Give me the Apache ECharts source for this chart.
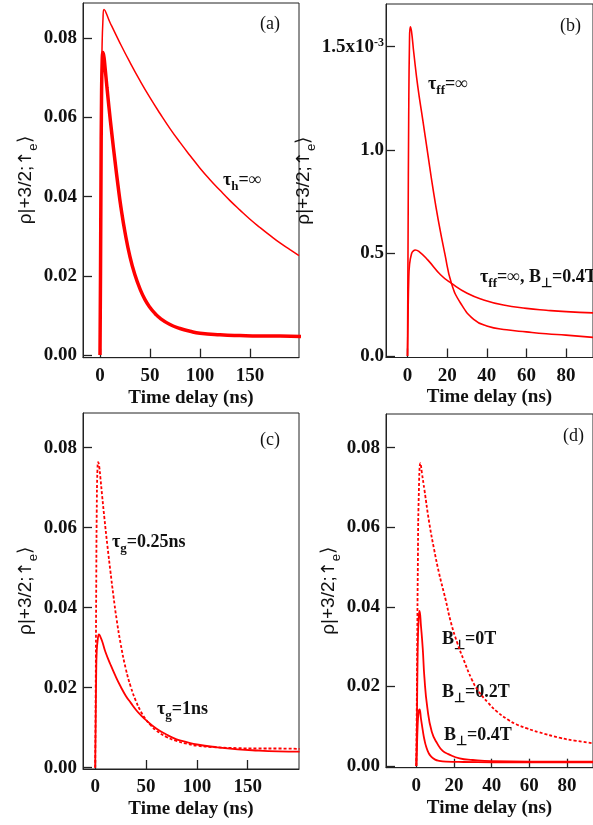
<!DOCTYPE html>
<html>
<head>
<meta charset="utf-8">
<script src="https://cdn.jsdelivr.net/npm/echarts@6/dist/echarts.min.js"></script>
<style>
html,body{margin:0;padding:0;background:#fff;}
#main{width:593px;height:825px;}
</style>
</head>
<body>
<div id="main"></div>
<script>
// [time delay (ns), rho]
// (a) thin: tau_h = inf
var tauHInf = [[0,0],[0.5,0.02],[1,0.045],[1.5,0.065],[2,0.077],[3,0.085],[4,0.0873],[10,0.0840],[20,0.0788],[30,0.0739],[40,0.0693],[50,0.0650],[60,0.0610],[70,0.0572],[80,0.0537],[90,0.0504],[100,0.0472],[110,0.0443],[120,0.0416],[130,0.0390],[140,0.0366],[150,0.0343],[160,0.0322],[170,0.0302],[180,0.0283],[190,0.0266],[199,0.0251]];
// (a) thick and (c) dotted: tau_g = 0.25ns
var tauG025 = [[0,0],[0.5,0.02],[1,0.045],[1.5,0.064],[2.2,0.0745],[3,0.0764],[4,0.0752],[5,0.0728],[7,0.0675],[9,0.0625],[12,0.0555],[15,0.049],[18,0.0428],[21,0.0372],[25,0.031],[30,0.0248],[35,0.0202],[40,0.0167],[45,0.014],[50,0.0120],[55,0.0105],[60,0.0093],[70,0.0077],[80,0.0067],[90,0.0060],[100,0.0055],[120,0.0051],[140,0.0049],[160,0.0048],[180,0.0048],[201,0.0047]];
// (c) solid: tau_g = 1ns
var tauG1 = [[0,0],[0.5,0.012],[1,0.024],[1.5,0.029],[2.5,0.032],[3.7,0.0333],[5,0.0328],[7,0.0315],[10,0.0290],[15,0.0258],[20,0.0229],[25,0.0203],[30,0.0180],[35,0.0162],[40,0.0145],[45,0.0131],[50,0.0119],[60,0.0098],[70,0.0083],[80,0.0071],[90,0.0064],[100,0.0058],[120,0.0051],[140,0.0046],[160,0.0043],[180,0.0041],[201,0.0040]];
// (b) values in units of 1e-3
var tauFfInf = [[0,0],[0.3,0.6],[0.6,1.15],[1,1.52],[1.4,1.597],[2,1.575],[3.2,1.468],[5.2,1.306],[7.7,1.145],[10.2,0.983],[12.7,0.821],[15.5,0.66],[18.8,0.498],[22.2,0.352],[26.8,0.256],[33.4,0.178],[40,0.146],[50,0.127],[60,0.117],[70,0.108],[80,0.101],[94,0.09]];
var tauFfB04 = [[0,0],[0.3,0.2],[0.6,0.36],[1,0.44],[2,0.495],[3,0.51],[3.9,0.514],[6,0.505],[10.2,0.466],[16.8,0.393],[22.2,0.352],[30.1,0.304],[38.4,0.272],[48.4,0.247],[60,0.231],[70,0.222],[80,0.215],[94,0.209]];
// (d)
var b0T = [[0,0],[0.4,0.025],[0.8,0.05],[1.3,0.068],[2.2,0.0761],[3,0.0735],[4.3,0.0694],[6.9,0.061],[9.5,0.0543],[12.1,0.0484],[15.6,0.0417],[18.3,0.0362],[21.7,0.031],[25.2,0.0266],[29.6,0.0216],[33,0.0188],[38.3,0.0158],[43,0.0136],[48.8,0.0116],[53,0.0105],[58.4,0.0095],[65,0.0085],[76,0.0071],[84,0.0064],[94,0.0057]];
var b02T = [[0,0],[0.3,0.01],[0.7,0.028],[1.2,0.037],[1.7,0.039],[2.5,0.035],[3.4,0.0296],[4.3,0.0222],[5.8,0.0148],[8.2,0.0086],[11.3,0.0055],[14,0.0038],[17,0.003],[23,0.0019],[30,0.0015],[40,0.0012],[60,0.0011],[94,0.0011]];
var b04T = [[0,0],[0.3,0.004],[0.7,0.01],[1.2,0.0135],[1.7,0.0142],[2.5,0.0118],[3.4,0.009],[4.3,0.0066],[5.2,0.0049],[6.5,0.0033],[7.8,0.0024],[10,0.0016],[12.1,0.0013],[16,0.0011],[25,0.0010],[50,0.0009],[94,0.0009]];

var xTicksLong = [0, 50, 100, 150];
var xTicksShort = [0, 20, 40, 60, 80];
var yTicks = [0, 0.02, 0.04, 0.06, 0.08];
var yTicksB = [0, 0.5, 1.0, 1.5];

var serif = "'Liberation Serif', 'Times New Roman', serif";
var sans = "'Liberation Sans', Arial, sans-serif";
var RED = '#ff0000';
var INK = '#222';

var myChart = echarts.init(document.getElementById('main'));

function xAxisOf(grid, min, max, ticks, gap) {
    return {
        type: 'value', gridIndex: grid, min: min, max: max,
        axisLine: { show: true, onZero: false, lineStyle: { color: INK, width: 1 } },
        axisTick: { inside: true, length: 9, customValues: ticks, lineStyle: { color: INK, width: 1.3 } },
        axisLabel: { customValues: ticks, margin: 9, fontFamily: serif, fontWeight: 'bold', fontSize: 19, color: '#111' },
        splitLine: { show: false },
        name: 'Time delay (ns)', nameLocation: 'middle', nameGap: gap,
        nameTextStyle: { fontFamily: serif, fontWeight: 'bold', fontSize: 19, color: '#111', lineHeight: 22 }
    };
}
function yAxisOf(grid, min, max, ticks, fmt, margin, gap) {
    return {
        type: 'value', gridIndex: grid, min: min, max: max,
        axisLine: { show: true, onZero: false, lineStyle: { color: INK, width: 1 } },
        axisTick: { inside: true, length: 9, customValues: ticks, lineStyle: { color: INK, width: 1.3 } },
        axisLabel: {
            customValues: ticks, margin: margin, formatter: fmt,
            fontFamily: serif, fontWeight: 'bold', fontSize: 19, color: '#111',
            rich: { sup: { fontFamily: serif, fontWeight: 'bold', fontSize: 12, verticalAlign: 'top', lineHeight: 12, color: '#111' } }
        },
        splitLine: { show: false },
        name: '{t|ρ|+3/2;}{a|↑}{s|e}{t|⟩}', nameLocation: 'middle', nameGap: gap,
        nameTextStyle: {
            rich: {
                t: { fontFamily: sans, fontSize: 19, lineHeight: 28, color: '#111' },
                a: { fontFamily: "'DejaVu Sans', sans-serif", fontSize: 18, lineHeight: 28, color: '#111' },
                s: { fontFamily: sans, fontSize: 13, lineHeight: 13, verticalAlign: 'bottom', color: '#111' }
            }
        }
    };
}
function fmt2(v) { return v.toFixed(2); }
function fmtB(v) { return v === 1.5 ? '1.5x10{sup|-3}' : v.toFixed(1); }

function line(x, data, width, dashed) {
    return {
        type: 'line', xAxisIndex: x, yAxisIndex: x, data: data,
        showSymbol: false, smooth: 0.5, clip: true,
        lineStyle: { color: RED, width: width, type: dashed ? [3, 2] : 'solid' }
    };
}

var rich = {
    t: { fontFamily: serif, fontWeight: 'bold', fontSize: 18, lineHeight: 26, fill: '#111' },
    s: { fontFamily: serif, fontWeight: 'bold', fontSize: 13, lineHeight: 13, verticalAlign: 'bottom', fill: '#111' }
};
function note(x, y, text) {
    return { type: 'text', x: x, y: y, style: { text: text, rich: rich, verticalAlign: 'middle', align: 'left' } };
}
function letter(x, y, text) {
    return { type: 'text', x: x, y: y, style: { text: text, font: '18px ' + serif, fill: '#111', verticalAlign: 'middle' } };
}

option = {
    animation: false,
    backgroundColor: '#fff',
    grid: [
        { left: 83, top: 3, width: 216, height: 354.7, show: true, borderColor: INK, borderWidth: 1 },
        { left: 386, top: 4, width: 210, height: 353.5, show: true, borderColor: INK, borderWidth: 1 },
        { left: 83, top: 413, width: 216, height: 356, show: true, borderColor: INK, borderWidth: 1 },
        { left: 386, top: 414, width: 210, height: 353.7, show: true, borderColor: INK, borderWidth: 1 }
    ],
    xAxis: [
        xAxisOf(0, -17, 199, xTicksLong, 29),
        xAxisOf(1, -10.85, 93.6, xTicksShort, 29),
        xAxisOf(2, -12, 200.4, xTicksLong, 28),
        xAxisOf(3, -16.1, 93.8, xTicksShort, 29)
    ],
    yAxis: [
        yAxisOf(0, -0.00068, 0.08892, yTicks, fmt2, 6, 41),
        yAxisOf(1, -0.0073, 1.707, yTicksB, fmtB, 2, 44),
        yAxisOf(2, -0.000325, 0.08868, yTicks, fmt2, 6, 41),
        yAxisOf(3, -0.00043, 0.08847, yTicks, fmt2, 6, 37)
    ],
    series: [
        line(0, tauHInf, 1.5, false),
        line(0, tauG025, 3.5, false),
        line(1, tauFfInf, 1.6, false),
        line(1, tauFfB04, 1.6, false),
        line(2, tauG025, 1.8, true),
        line(2, tauG1, 1.8, false),
        line(3, b0T, 1.8, true),
        line(3, b02T, 1.8, false),
        line(3, b04T, 1.8, false)
    ],
    graphic: [
        letter(260, 24, '(a)'),
        letter(560, 26, '(b)'),
        letter(260, 440, '(c)'),
        letter(563, 436, '(d)'),
        note(223, 180, '{t|τ}{s|h}{t|=∞}'),
        note(428, 84, '{t|τ}{s|ff}{t|=∞}'),
        note(480, 277, '{t|τ}{s|ff}{t|=∞, B}{s|⊥}{t|=0.4T}'),
        note(112, 542, '{t|τ}{s|g}{t|=0.25ns}'),
        note(157, 709, '{t|τ}{s|g}{t|=1ns}'),
        note(442, 639, '{t|B}{s|⊥}{t|=0T}'),
        note(442, 692, '{t|B}{s|⊥}{t|=0.2T}'),
        note(444, 735, '{t|B}{s|⊥}{t|=0.4T}')
    ]
};
myChart.setOption(option);
</script>
</body>
</html>
